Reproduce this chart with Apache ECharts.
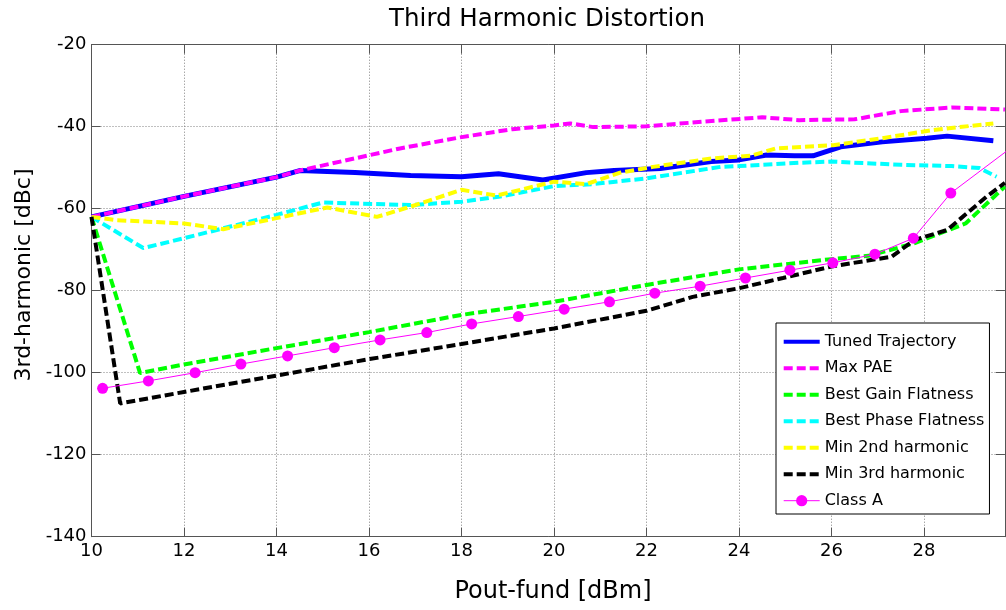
<!DOCTYPE html>
<html>
<head>
<meta charset="utf-8">
<script src="https://cdn.jsdelivr.net/npm/echarts@6/dist/echarts.min.js"></script>
<style>
  html, body { margin: 0; padding: 0; background: #fff; }
  #chart { width: 1006px; height: 610px; }
</style>
</head>
<body>
<div id="chart"></div>
<script>
// Third-harmonic level versus fundamental output power for several load trajectories.

const xTicks = [10, 12, 14, 16, 18, 20, 22, 24, 26, 28];
const yTicks = [-140, -120, -100, -80, -60, -40, -20];

const tunedX = [10, 12, 14, 14.5, 15.7, 16.9, 18.0, 18.8, 19.76, 20.7, 21.3, 22.3, 23.4, 24.0, 24.6, 25.2, 25.6, 26.2, 27.1, 28.06, 28.5, 29.5];
const tunedY = [-62, -57.0, -52.3, -50.7, -51.2, -51.9, -52.2, -51.5, -53.0, -51.2, -50.7, -50.2, -48.5, -48.1, -46.9, -47.1, -47.1, -44.9, -43.7, -42.8, -42.3, -43.4];

const maxPaeX = [10, 12, 14, 14.5, 16.67, 17.97, 19.1, 20.0, 20.35, 20.85, 22.0, 23.2, 24.5, 25.3, 26.5, 27.5, 28.6, 29.75];
const maxPaeY = [-62, -57.0, -52.3, -50.7, -45.3, -42.6, -40.6, -39.7, -39.2, -40.1, -39.9, -38.8, -37.7, -38.4, -38.2, -36.2, -35.3, -35.8];

const gainX = [10, 11.05, 12, 14, 16, 18, 20, 22, 24, 26, 26.8, 27.8, 28.9, 29.75];
const gainY = [-62, -100.1, -98.0, -94.0, -90.1, -85.9, -82.7, -78.6, -74.8, -72.3, -71.5, -68.4, -63.6, -54.6];

const phaseX = [10, 11.12, 12, 14, 15.0, 16.9, 18, 18.8, 20, 20.84, 22, 23.6, 24, 25.3, 26, 27.5, 28.6, 29.2, 29.57];
const phaseY = [-62, -69.6, -67.2, -61.5, -58.5, -59.1, -58.3, -57.1, -54.5, -54.0, -52.6, -49.8, -49.6, -48.8, -48.5, -49.3, -49.6, -50.1, -52.2];

const h2X = [10, 10.54, 12, 12.85, 14, 15.1, 16.17, 16.9, 18, 18.76, 20, 20.7, 21.43, 22.14, 23.44, 24.25, 24.8, 26.04, 27.1, 28.2, 29.5];
const h2Y = [-62, -62.8, -63.6, -65.0, -62.3, -59.7, -62.0, -59.5, -55.4, -56.8, -53.4, -54.0, -51.2, -49.8, -47.7, -47.1, -45.3, -44.5, -42.8, -40.8, -39.2];

const h3X = [10, 10.62, 12, 14, 16, 18, 20, 22, 23, 24, 24.95, 26, 27.3, 27.8, 28.5, 29.35, 29.75];
const h3Y = [-62, -107.5, -104.7, -100.7, -96.7, -93.0, -89.2, -84.9, -81.5, -79.4, -76.9, -74.1, -71.7, -67.6, -65.2, -57.1, -53.7];

const classAX = [10.24, 11.23, 12.24, 13.23, 14.24, 15.25, 16.24, 17.25, 18.22, 19.23, 20.22, 21.2, 22.18, 23.16, 24.14, 25.1, 26.03, 26.94, 27.77, 28.58, 30.5];
const classAY = [-103.8, -102.0, -100.0, -97.9, -95.9, -93.9, -92.0, -90.2, -88.1, -86.3, -84.5, -82.7, -80.6, -78.9, -76.9, -75.0, -73.2, -71.1, -67.2, -56.2, -39.9];

const names = ['Tuned Trajectory', 'Max PAE', 'Best Gain Flatness', 'Best Phase Flatness',
               'Min 2nd harmonic', 'Min 3rd harmonic', 'Class A'];

const FONT = 'DejaVu Sans';
const X_MIN = 10, X_MAX = 29.75;
const frameColor = '#555';
const gridColor = '#808080';

function pairs(xs, ys) { return xs.map((x, i) => [x, ys[i]]); }

function dashedSeries(name, xs, ys, color) {
  return {
    name, type: 'line', data: pairs(xs, ys), symbol: 'none',
    lineStyle: { color, width: 4, type: [9, 4] },
    itemStyle: { color }
  };
}

const chart = echarts.init(document.getElementById('chart'), null, { renderer: 'canvas' });

const baseX = { type: 'value', min: X_MIN, max: X_MAX, interval: 2 };
const baseY = { type: 'value', min: yTicks[0], max: yTicks[yTicks.length - 1], interval: 20 };

// legend entries: line-only swatches, except Class A which keeps its marker
const legendData = names.map(n => (n === 'Class A'
  ? { name: n, itemStyle: { opacity: 1 }, lineStyle: { width: 1 } }
  : { name: n, itemStyle: { opacity: 0 }, lineStyle: { width: 4 } }));

chart.setOption({
  animation: false,
  backgroundColor: '#fff',
  grid: { left: 91.5, top: 44.7, width: 913.4, height: 492, containLabel: false },
  graphic: [
    { type: 'text', style: { text: 'Third Harmonic Distortion', x: 547, y: 20, font: '24.5px "' + FONT + '"', fill: '#000', textAlign: 'center', textVerticalAlign: 'middle' } },
    { type: 'text', style: { text: 'Pout-fund [dBm]', x: 553, y: 592, font: '24px "' + FONT + '"', fill: '#000', textAlign: 'center', textVerticalAlign: 'middle' } },
    { type: 'text', x: 24, y: 275, rotation: Math.PI / 2, style: { text: '3rd-harmonic [dBc]', x: 0, y: 0, font: '22px "' + FONT + '"', fill: '#000', textAlign: 'center', textVerticalAlign: 'middle' } }
  ],
  xAxis: [
    Object.assign({}, baseX, {
      position: 'bottom',
      axisLine: { show: true, onZero: false, lineStyle: { color: frameColor, width: 1 } },
      axisTick: { show: true, inside: true, length: 9, lineStyle: { color: frameColor } },
      axisLabel: {
        show: true, margin: 6, color: '#000', fontFamily: FONT, fontSize: 18,
        showMaxLabel: false,
        formatter: v => (xTicks.indexOf(v) >= 0 ? String(v) : '')
      },
      splitLine: { show: true, lineStyle: { color: gridColor, width: 1, type: [1, 2] } }
    }),
    Object.assign({}, baseX, {
      position: 'top',
      axisLine: { show: true, onZero: false, lineStyle: { color: frameColor, width: 1 } },
      axisTick: { show: true, inside: true, length: 9, lineStyle: { color: frameColor } },
      axisLabel: { show: false },
      splitLine: { show: false }
    })
  ],
  yAxis: [
    Object.assign({}, baseY, {
      position: 'left',
      axisLine: { show: true, onZero: false, lineStyle: { color: frameColor, width: 1 } },
      axisTick: { show: true, inside: true, length: 9, lineStyle: { color: frameColor } },
      axisLabel: { show: true, margin: 5, color: '#000', fontFamily: FONT, fontSize: 18, padding: [8, 0, 0, 0] },
      splitLine: { show: true, lineStyle: { color: gridColor, width: 1, type: [1, 2] } }
    }),
    Object.assign({}, baseY, {
      position: 'right',
      axisLine: { show: true, onZero: false, lineStyle: { color: frameColor, width: 1 } },
      axisTick: { show: true, inside: true, length: 9, lineStyle: { color: frameColor } },
      axisLabel: { show: false },
      splitLine: { show: false }
    })
  ],
  legend: {
    orient: 'vertical', left: 776, top: 323,
    padding: [10.7, 5, 5.3, 5.7],
    itemWidth: 36, itemHeight: 14, itemGap: 10.5,
    backgroundColor: '#fff', borderColor: '#000', borderWidth: 1,
    textStyle: { fontFamily: FONT, fontSize: 16, color: '#000', lineHeight: 14 },
    data: legendData
  },
  series: [
    {
      name: names[0], type: 'line', data: pairs(tunedX, tunedY), symbol: 'none',
      lineStyle: { color: '#0000ff', width: 5 }, itemStyle: { color: '#0000ff' }
    },
    dashedSeries(names[1], maxPaeX, maxPaeY, '#ff00ff'),
    dashedSeries(names[2], gainX, gainY, '#00ff00'),
    dashedSeries(names[3], phaseX, phaseY, '#00ffff'),
    dashedSeries(names[4], h2X, h2Y, '#ffff00'),
    dashedSeries(names[5], h3X, h3Y, '#000000'),
    {
      name: names[6], type: 'line', data: pairs(classAX, classAY),
      symbol: 'circle', symbolSize: 11, showAllSymbol: true,
      lineStyle: { color: '#ff00ff', width: 1 }, itemStyle: { color: '#ff00ff' }
    }
  ]
});
</script>
</body>
</html>
